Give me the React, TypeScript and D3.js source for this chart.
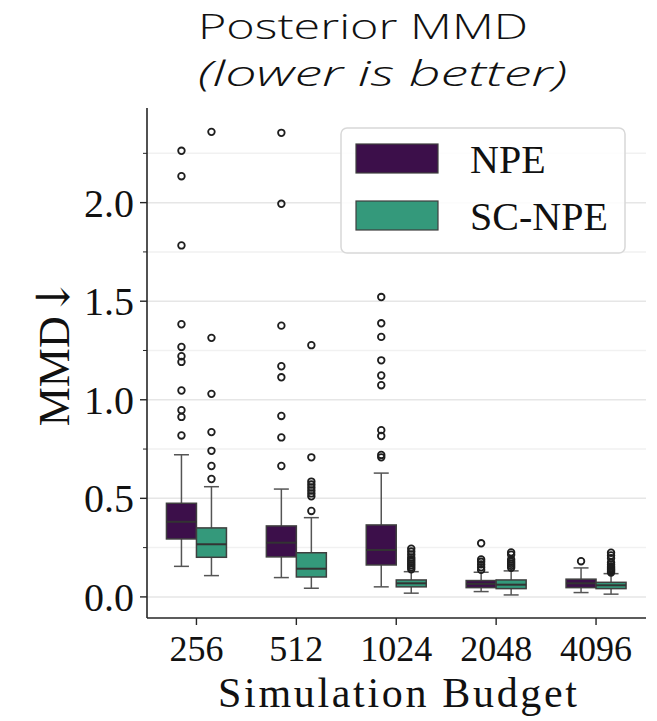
import React from "react";
import * as d3 from "d3";

const budgets = ["256", "512", "1024", "2048", "4096"];
const seriesNames = ["NPE", "SC-NPE"];
const seriesColors = ["#3c0f4a", "#34997b"];

const npeQ1 = [0.294, 0.203, 0.162, 0.047, 0.047];
const npeMedian = [0.381, 0.275, 0.238, 0.066, 0.069];
const npeQ3 = [0.475, 0.36, 0.365, 0.083, 0.09];
const npeWhiskerLow = [0.155, 0.098, 0.051, 0.027, 0.022];
const npeWhiskerHigh = [0.721, 0.547, 0.628, 0.125, 0.147];
const npeOutliers = [
  [2.263, 2.134, 1.783, 1.383, 1.268, 1.221, 1.192, 1.047, 0.947, 0.913, 0.819],
  [2.354, 1.994, 1.376, 1.17, 1.114, 0.918, 0.809, 0.664],
  [1.521, 1.388, 1.319, 1.2, 1.123, 1.074, 0.846, 0.816, 0.72, 0.708],
  [0.272, 0.19, 0.178, 0.165, 0.15, 0.137],
  [0.181],
];

const scQ1 = [0.201, 0.101, 0.051, 0.042, 0.042];
const scMedian = [0.267, 0.143, 0.069, 0.062, 0.059];
const scQ3 = [0.35, 0.224, 0.086, 0.086, 0.074];
const scWhiskerLow = [0.108, 0.044, 0.019, 0.01, 0.014];
const scWhiskerHigh = [0.559, 0.402, 0.128, 0.132, 0.118];
const scOutliers = [
  [2.359, 1.314, 1.03, 0.836, 0.741, 0.664, 0.598],
  [1.277, 0.708, 0.585, 0.57, 0.555, 0.54, 0.525, 0.51, 0.436],
  [0.245, 0.23, 0.215, 0.2, 0.19, 0.18, 0.17, 0.16, 0.15, 0.14],
  [0.226, 0.214, 0.19, 0.178, 0.168, 0.158, 0.148],
  [0.224, 0.21, 0.196, 0.175, 0.165, 0.155, 0.148, 0.142, 0.136, 0.13, 0.124],
];

const yMajorTicks = [0, 0.5, 1.0, 1.5, 2.0];
const yMinorTicks = [0.25, 0.75, 1.25, 1.75, 2.25];

const W = 657;
const H = 721;
const plotLeft = 147;
const plotRight = 646;
const plotTop = 108;
const plotBottom = 618;

const serif = "'Liberation Serif', 'Times New Roman', serif";
const sans = "'Open Sans', Lato, sans-serif";

export default function App() {
  const x = d3.scaleBand<string>().domain(budgets).range([plotLeft - 0.5, plotRight]).padding(0);
  const hue = d3.scaleBand<string>().domain(seriesNames).range([0, 60]);
  const y = d3.scaleLinear().domain([-0.107, 2.48]).range([plotBottom, plotTop]);

  const series = [
    { q1: npeQ1, med: npeMedian, q3: npeQ3, lo: npeWhiskerLow, hi: npeWhiskerHigh, out: npeOutliers },
    { q1: scQ1, med: scMedian, q3: scQ3, lo: scWhiskerLow, hi: scWhiskerHigh, out: scOutliers },
  ];
  const bw = hue.bandwidth();

  return (
    <svg width={W} height={H} style={{ position: "absolute", left: 0, top: 0, background: "#fff" }}>
      {/* grid */}
      {yMinorTicks.map((t) => (
        <line key={"gm" + t} x1={plotLeft} x2={plotRight} y1={y(t)} y2={y(t)} stroke="#f1f1f1" strokeWidth={1.5} />
      ))}
      {yMajorTicks.map((t) => (
        <line key={"gM" + t} x1={plotLeft} x2={plotRight} y1={y(t)} y2={y(t)} stroke="#e6e6e6" strokeWidth={1.5} />
      ))}

      {/* boxes */}
      {budgets.map((b, i) => {
        const center = x(b)! + x.bandwidth() / 2;
        return series.map((s, k) => {
          const x0 = center - 30 + hue(seriesNames[k])!;
          const xc = x0 + bw / 2;
          return (
            <g key={b + k}>
              <line x1={xc} x2={xc} y1={y(s.q3[i])} y2={y(s.hi[i])} stroke="#555" strokeWidth={1.5} />
              <line x1={xc} x2={xc} y1={y(s.q1[i])} y2={y(s.lo[i])} stroke="#555" strokeWidth={1.5} />
              <line x1={xc - bw / 4} x2={xc + bw / 4} y1={y(s.hi[i])} y2={y(s.hi[i])} stroke="#555" strokeWidth={1.5} />
              <line x1={xc - bw / 4} x2={xc + bw / 4} y1={y(s.lo[i])} y2={y(s.lo[i])} stroke="#555" strokeWidth={1.5} />
              <rect
                x={x0}
                y={y(s.q3[i])}
                width={bw}
                height={y(s.q1[i]) - y(s.q3[i])}
                fill={seriesColors[k]}
                stroke="#3f3f3f"
                strokeWidth={1.5}
              />
              <line x1={x0} x2={x0 + bw} y1={y(s.med[i])} y2={y(s.med[i])} stroke="#333" strokeWidth={2} />
              {s.out[i].map((v, j) => (
                <circle key={j} cx={xc} cy={y(v)} r={3.3} fill="none" stroke="#1e1e1e" strokeWidth={1.8} />
              ))}
            </g>
          );
        });
      })}

      {/* spines */}
      <line x1={plotLeft} x2={plotLeft} y1={plotTop} y2={plotBottom} stroke="#262626" strokeWidth={1.6} />
      <line x1={plotLeft} x2={plotRight} y1={plotBottom} y2={plotBottom} stroke="#262626" strokeWidth={1.6} />

      {/* y ticks */}
      {yMajorTicks.map((t) => (
        <g key={"yt" + t}>
          <line x1={plotLeft - 7} x2={plotLeft} y1={y(t)} y2={y(t)} stroke="#262626" strokeWidth={1.4} />
          <text x={plotLeft - 13} y={y(t)} dy="0.35em" textAnchor="end" fontFamily={serif} fontSize={40} fill="#111">
            {d3.format(".1f")(t)}
          </text>
        </g>
      ))}
      {yMinorTicks.map((t) => (
        <line key={"ym" + t} x1={plotLeft - 4} x2={plotLeft} y1={y(t)} y2={y(t)} stroke="#262626" strokeWidth={1} />
      ))}

      {/* x ticks */}
      {budgets.map((b) => {
        const cx = x(b)! + x.bandwidth() / 2;
        return (
          <g key={"xt" + b}>
            <line x1={cx} x2={cx} y1={plotBottom} y2={plotBottom + 7} stroke="#262626" strokeWidth={1.4} />
            <text x={cx} y={661} textAnchor="middle" fontFamily={serif} fontSize={36} fill="#111">
              {b}
            </text>
          </g>
        );
      })}

      {/* axis labels */}
      <text x={218} y={707} fontFamily={serif} fontSize={42} textLength={359} lengthAdjust="spacing" fill="#111">
        Simulation Budget
      </text>
      <text
        transform="translate(69,352) rotate(-90)"
        textAnchor="middle"
        fontFamily={serif}
        fontSize={44}
        fill="#111"
      >
        MMD<tspan fontFamily="'DejaVu Serif', serif" fontSize={46}>↓</tspan>
      </text>

      {/* title */}
      <text x={198} y={39} fontFamily={sans} fontWeight={300} fontSize={35} textLength={330} lengthAdjust="spacingAndGlyphs" fill="#111">
        Posterior MMD
      </text>
      <text x={198} y={86} fontFamily={sans} fontWeight={300} fontStyle="italic" fontSize={35} textLength={369} lengthAdjust="spacingAndGlyphs" fill="#111">
        (lower is better)
      </text>

      {/* legend */}
      <rect x={341} y={128} width={284} height={125} rx={6} fill="#fff" fillOpacity={0.85} stroke="#d8d8d8" strokeWidth={1.5} />
      {seriesNames.map((n, k) => (
        <g key={"lg" + n}>
          <rect x={356} y={144 + k * 57} width={82} height={29} fill={seriesColors[k]} stroke="#3f3f3f" strokeWidth={1.2} />
          <text x={470} y={173 + k * 57} fontFamily={serif} fontSize={40} fill="#111">
            {n}
          </text>
        </g>
      ))}
    </svg>
  );
}
